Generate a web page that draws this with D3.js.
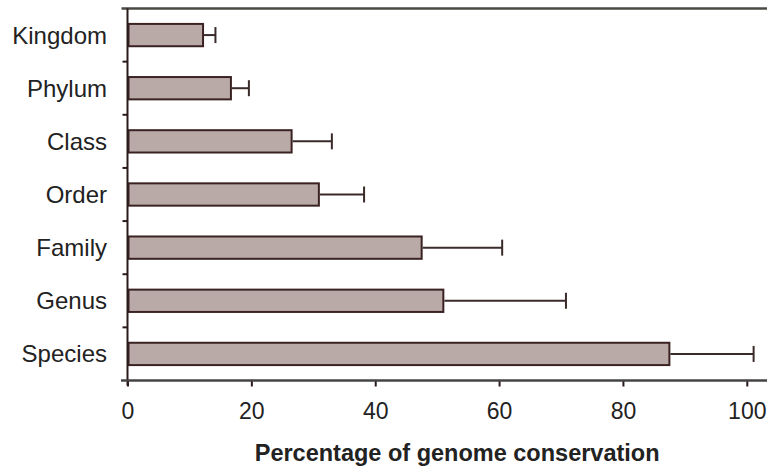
<!DOCTYPE html>
<html>
<head>
<meta charset="utf-8">
<script src="https://cdn.jsdelivr.net/npm/d3@7"></script>
<style>
  body { margin: 0; background: #fff; }
  svg { display: block; font-family: "Liberation Sans", Arial, sans-serif; }
</style>
</head>
<body>
<svg id="chart" width="767" height="467"></svg>
<script>
// data
var categories = ['Kingdom', 'Phylum', 'Class', 'Order', 'Family', 'Genus', 'Species'];
var means = [12.2, 16.7, 26.5, 30.9, 47.5, 51.0, 87.5];
var upper = [14.2, 19.6, 33.0, 38.2, 60.5, 70.8, 101.1];
var xTicks = [0, 20, 40, 60, 80, 100];
var xTitle = 'Percentage of genome conservation';

var W = 767, H = 467;
var margin = {top: 8.5, left: 127.5, bottom: 86.5};
var plotBottom = H - margin.bottom;

var svg = d3.select('#chart');

var x = d3.scaleLinear().domain([0, 100]).range([margin.left, 746.8]);
var y = d3.scaleBand().domain(categories)
    .range([margin.top, plotBottom])
    .paddingInner(0.58).paddingOuter(0.29);

var rows = categories.map(function(c, i){
    return {cat: c, mean: means[i], hi: upper[i]};
});

// top frame line
svg.append('line')
    .attr('x1', 121.5).attr('x2', W)
    .attr('y1', margin.top).attr('y2', margin.top)
    .attr('stroke', '#4a4a44').attr('stroke-width', 2.5);

// bars
svg.selectAll('.bar').data(rows).enter()
  .append('rect')
    .attr('class', 'bar')
    .attr('x', x(0) + 1)
    .attr('y', function(d){ return y(d.cat); })
    .attr('width', function(d){ return x(d.mean) - x(0) - 1; })
    .attr('height', y.bandwidth())
    .attr('fill', '#b9aaa8')
    .attr('stroke', '#3a2222')
    .attr('stroke-width', 2);

// error bars
var err = svg.selectAll('.err').data(rows).enter().append('g').attr('class', 'err');
err.append('line')
    .attr('x1', function(d){ return x(d.mean) + 1; })
    .attr('x2', function(d){ return x(d.hi); })
    .attr('y1', function(d){ return y(d.cat) + y.bandwidth() / 2; })
    .attr('y2', function(d){ return y(d.cat) + y.bandwidth() / 2; })
    .attr('stroke', '#3a2a2a').attr('stroke-width', 2);
err.append('line')
    .attr('x1', function(d){ return x(d.hi); })
    .attr('x2', function(d){ return x(d.hi); })
    .attr('y1', function(d){ return y(d.cat) + y.bandwidth() / 2 - 8; })
    .attr('y2', function(d){ return y(d.cat) + y.bandwidth() / 2 + 8; })
    .attr('stroke', '#3a2a2a').attr('stroke-width', 2);

// y axis: line plus ticks between categories
svg.append('line')
    .attr('x1', margin.left).attr('x2', margin.left)
    .attr('y1', margin.top).attr('y2', plotBottom + 5)
    .attr('stroke', '#2a1a1a').attr('stroke-width', 2);
var bounds = d3.range(1, categories.length).map(function(i){ return margin.top + i * y.step(); });
svg.selectAll('.ytick').data(bounds).enter()
  .append('line')
    .attr('class', 'ytick')
    .attr('x1', margin.left - 5).attr('x2', margin.left)
    .attr('y1', function(d){ return d; }).attr('y2', function(d){ return d; })
    .attr('stroke', '#2a1a1a').attr('stroke-width', 2);

svg.selectAll('.ylab').data(categories).enter()
  .append('text')
    .attr('class', 'ylab')
    .attr('x', 107)
    .attr('y', function(d){ return y(d) + y.bandwidth() / 2 + 8.5; })
    .attr('text-anchor', 'end')
    .attr('font-size', 24)
    .attr('fill', '#222')
    .text(function(d){ return d; });

// x axis
var xAxis = svg.append('g')
    .attr('transform', 'translate(0,' + plotBottom + ')')
    .call(d3.axisBottom(x).tickValues(xTicks).tickSize(6).tickPadding(16));
xAxis.select('.domain').remove();
xAxis.append('line')
    .attr('x1', 121).attr('x2', W)
    .attr('stroke', '#444').attr('stroke-width', 2.5);
xAxis.selectAll('.tick line').attr('stroke', '#2a1a1a').attr('stroke-width', 2);
xAxis.selectAll('.tick text')
    .attr('font-size', 23)
    .attr('font-family', '"Liberation Sans", Arial, sans-serif')
    .attr('fill', '#222');

svg.append('text')
    .attr('x', (x(0) + x(100)) / 2 + 20)
    .attr('y', 461)
    .attr('text-anchor', 'middle')
    .attr('font-size', 23.5)
    .attr('font-weight', 'bold')
    .attr('fill', '#222')
    .text(xTitle);
</script>
</body>
</html>
